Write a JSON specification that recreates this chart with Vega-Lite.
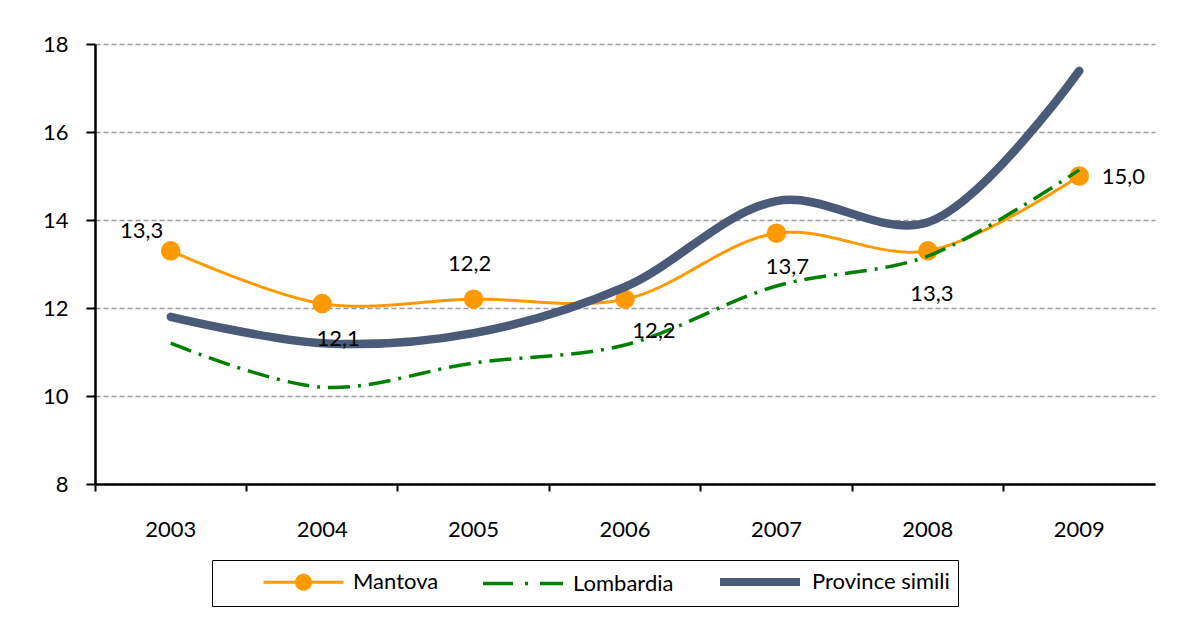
{
  "$schema": "https://vega.github.io/schema/vega-lite/v6.json",
  "autosize": {"type": "none"},
  "width": 1060,
  "height": 440,
  "padding": {"left": 95, "top": 44, "right": 25, "bottom": 137},
  "background": "white",
  "config": {
    "locale": {"number": {"decimal": ",", "thousands": ".", "grouping": [3], "currency": ["", "€"]}},
    "font": "Lato",
    "view": {"stroke": null},
    "axis": {"labelFont": "Lato", "labelFontSize": 22, "labelColor": "black"}
  },
  "data": {"values": [
    {"year": "2003", "series": "Mantova", "v": 13.3},
    {"year": "2004", "series": "Mantova", "v": 12.1},
    {"year": "2005", "series": "Mantova", "v": 12.2},
    {"year": "2006", "series": "Mantova", "v": 12.2},
    {"year": "2007", "series": "Mantova", "v": 13.7},
    {"year": "2008", "series": "Mantova", "v": 13.3},
    {"year": "2009", "series": "Mantova", "v": 15.0},
    {"year": "2003", "series": "Lombardia", "v": 11.2},
    {"year": "2004", "series": "Lombardia", "v": 10.2},
    {"year": "2005", "series": "Lombardia", "v": 10.75},
    {"year": "2006", "series": "Lombardia", "v": 11.16},
    {"year": "2007", "series": "Lombardia", "v": 12.5},
    {"year": "2008", "series": "Lombardia", "v": 13.18},
    {"year": "2009", "series": "Lombardia", "v": 15.14},
    {"year": "2003", "series": "Province simili", "v": 11.8},
    {"year": "2004", "series": "Province simili", "v": 11.2},
    {"year": "2005", "series": "Province simili", "v": 11.43},
    {"year": "2006", "series": "Province simili", "v": 12.48},
    {"year": "2007", "series": "Province simili", "v": 14.43},
    {"year": "2008", "series": "Province simili", "v": 13.95},
    {"year": "2009", "series": "Province simili", "v": 17.39}
  ]},
  "encoding": {
    "x": {"field": "year", "type": "ordinal", "bandPosition": 0.5,
      "scale": {"type": "band", "paddingInner": 0, "paddingOuter": 0},
      "axis": {"title": null, "bandPosition": 0, "labelAngle": 0, "domainColor": "black", "domainWidth": 2.5, "tickColor": "black", "tickWidth": 2, "tickSize": 7, "labelPadding": 28, "grid": false}},
    "y": {"field": "v", "type": "quantitative",
      "scale": {"domain": [8, 18], "nice": false, "zero": false},
      "axis": {"title": null, "values": [8, 10, 12, 14, 16, 18], "domainColor": "black", "domainWidth": 2.5, "tickColor": "black", "tickWidth": 2, "tickSize": 9, "labelPadding": 18, "grid": true, "gridColor": "#999999", "gridDash": [5, 3], "gridWidth": 1.3}}
  },
  "layer": [
    {
      "transform": [{"filter": "datum.series === 'Mantova'"}],
      "mark": {"type": "line", "interpolate": "catmull-rom"},
      "encoding": {
        "color": {"field": "series", "type": "nominal", "scale": {"domain": ["Mantova", "Lombardia", "Province simili"], "range": ["#FF9900", "#008000", "#4A5A78"]},
          "legend": {"title": null, "orient": "none", "legendX": 117, "legendY": 516, "direction": "horizontal", "strokeColor": "black", "padding": 8, "columnPadding": 0, "symbolOffset": 72, "symbolType": "stroke", "symbolSize": 400, "labelFontSize": 22, "labelFont": "Lato", "labelColor": "black", "labelOffset": 38,
            "labelExpr": "datum.label === 'Province simili' ? datum.label + '\u00a0\u00a0\u00a0\u00a0' : datum.label",
            "encode": {"symbols": {"update": {
              "shape": {"signal": "datum.value === 'Mantova' ? 'M-4,0L-0.7,0A0.7,0.7 0 1,1 0.7,0A0.7,0.7 0 1,1 -0.7,0M0.7,0L4,0' : 'M-4,0L4,0'"},
              "fill": {"signal": "datum.value === 'Mantova' ? '#FF9900' : 'transparent'"}
            }}}}},
        "strokeDash": {"field": "series", "type": "nominal", "scale": {"domain": ["Mantova", "Lombardia", "Province simili"], "range": [[1, 0], [30, 12, 3, 12], [1, 0]]}, "legend": null},
        "strokeWidth": {"field": "series", "type": "nominal", "scale": {"type": "ordinal", "domain": ["Mantova", "Lombardia", "Province simili"], "range": [3, 3.5, 8]}, "legend": null}
      }
    },
    {
      "transform": [{"filter": "datum.series === 'Mantova'"}],
      "mark": {"type": "point", "shape": "circle", "filled": true, "opacity": 1, "size": 380, "color": "#FF9900"}
    },
    {
      "transform": [{"filter": "datum.series === 'Lombardia'"}],
      "mark": {"type": "line", "interpolate": "catmull-rom", "color": "#008000", "strokeWidth": 3.5, "strokeDash": [22, 8, 3, 8]}
    },
    {
      "transform": [{"filter": "datum.series === 'Province simili'"}],
      "mark": {"type": "line", "interpolate": "catmull-rom", "strokeCap": "round", "color": "#4A5A78", "strokeWidth": 8.5}
    },
    {
      "transform": [{"filter": "datum.series === 'Mantova' && datum.year === '2003'"}],
      "mark": {"type": "text", "fontSize": 22, "font": "Lato", "color": "black", "dx": -29, "dy": -20},
      "encoding": {"text": {"field": "v", "type": "quantitative", "format": ".1f"}}
    },
    {
      "transform": [{"filter": "datum.series === 'Mantova' && datum.year === '2005'"}],
      "mark": {"type": "text", "fontSize": 22, "font": "Lato", "color": "black", "dx": -4, "dy": -35},
      "encoding": {"text": {"field": "v", "type": "quantitative", "format": ".1f"}}
    },
    {
      "transform": [{"filter": "datum.series === 'Mantova' && datum.year === '2004'"}],
      "mark": {"type": "text", "fontSize": 22, "font": "Lato", "color": "black", "dx": 16, "dy": 35},
      "encoding": {"text": {"field": "v", "type": "quantitative", "format": ".1f"}}
    },
    {
      "transform": [{"filter": "datum.series === 'Mantova' && datum.year === '2006'"}],
      "mark": {"type": "text", "fontSize": 22, "font": "Lato", "color": "black", "dx": 29, "dy": 32},
      "encoding": {"text": {"field": "v", "type": "quantitative", "format": ".1f"}}
    },
    {
      "transform": [{"filter": "datum.series === 'Mantova' && datum.year === '2007'"}],
      "mark": {"type": "text", "fontSize": 22, "font": "Lato", "color": "black", "dx": 11, "dy": 34},
      "encoding": {"text": {"field": "v", "type": "quantitative", "format": ".1f"}}
    },
    {
      "transform": [{"filter": "datum.series === 'Mantova' && datum.year === '2008'"}],
      "mark": {"type": "text", "fontSize": 22, "font": "Lato", "color": "black", "dx": 4, "dy": 43},
      "encoding": {"text": {"field": "v", "type": "quantitative", "format": ".1f"}}
    },
    {
      "transform": [{"filter": "datum.series === 'Mantova' && datum.year === '2009'"}],
      "mark": {"type": "text", "fontSize": 22, "font": "Lato", "color": "black", "dx": 44, "dy": 1},
      "encoding": {"text": {"field": "v", "type": "quantitative", "format": ".1f"}}
    }
  ]
}
